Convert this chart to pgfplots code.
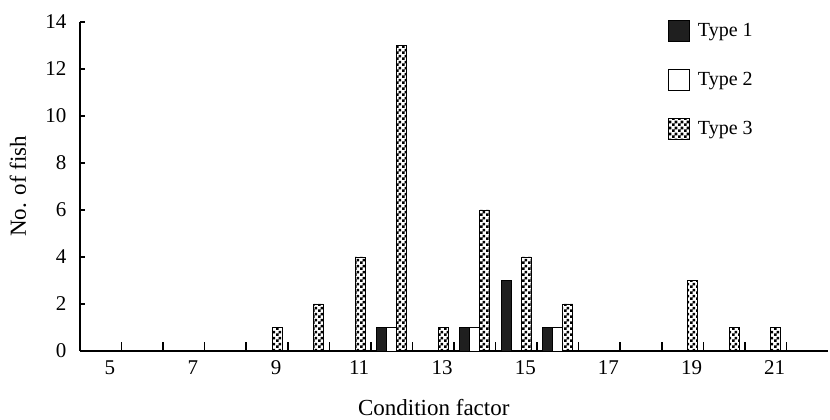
\documentclass[border=0pt]{standalone}
\usepackage{fontspec}
\setmainfont{Liberation Serif}
\usepackage{pgfplots}
\pgfplotsset{compat=1.18}
\usetikzlibrary{patterns}
\pgfdeclarepatternformonly{checkerthree}{\pgfpointorigin}{\pgfqpoint{6pt}{6pt}}{\pgfqpoint{6pt}{6pt}}{%
  \pgfpathrectangle{\pgfpointorigin}{\pgfqpoint{3pt}{3pt}}%
  \pgfpathrectangle{\pgfqpoint{3pt}{3pt}}{\pgfqpoint{3pt}{3pt}}%
  \pgfusepath{fill}}
\colorlet{darkfill}{black!88}
\begin{document}
\begin{tikzpicture}
\useasboundingbox (-80pt,-69pt) rectangle (750pt,351pt);
\begin{axis}[
  at={(0pt,0pt)}, anchor=south west, scale only axis,
  width=748pt, height=329pt,
  xmin=4.5, xmax=22.5, ymin=0, ymax=14,
  axis lines*=left,
  axis line style={line width=1.3pt, -},
  tick align=inside,
  major tick length=5pt,
  minor tick length=9pt,
  every tick/.style={black, line width=1.3pt},
  every minor tick/.style={black, line width=1.5pt},
  xtick={5,7,...,21},
  major x tick style={draw=none},
  minor xtick={5.5,6.5,...,21.5},
  minor x tick style={draw=black, line width=1.5pt},
  ytick={0,2,...,14},
  /pgf/number format/assume math mode=true,
  xticklabel style={font=\fontsize{21}{24}\selectfont, anchor=base, yshift=-24pt, xshift=9pt},
  yticklabel style={font=\fontsize{21}{24}\selectfont, anchor=east, xshift=-10pt},
  xlabel={Condition factor},
  ylabel={No. of fish},
  xlabel style={font=\fontsize{23}{26}\selectfont, inner sep=0pt, at={(axis description cs:0.473,-0.197)}, anchor=base},
  ylabel style={font=\fontsize{23}{26}\selectfont, inner sep=0pt, at={(axis description cs:-0.083,0.5)}, anchor=center},
  legend style={at={(axis description cs:0.786,1.006)}, anchor=north west,
    draw=none, fill=none, inner sep=0pt, row sep=27pt,
    font=\fontsize{20}{24}\selectfont,
    /tikz/every odd column/.append style={column sep=6pt}},
  legend cell align=left,
  clip=false,
]
\addplot[ybar, bar width=10pt, bar shift=-10pt, fill=darkfill, draw=black, line width=0.8pt, forget plot]
  coordinates {(12,1) (14,1) (15,3) (16,1)};
\addplot[ybar, bar width=10pt, bar shift=0pt, fill=white, draw=black, line width=0.8pt, forget plot]
  coordinates {(12,1) (14,1) (16,1)};
\addplot[ybar, bar width=10pt, bar shift=10pt, pattern=checkerthree, pattern color=black, draw=black, line width=0.8pt, forget plot]
  coordinates {(9,1) (10,2) (11,4) (12,13) (13,1) (14,6) (15,4) (16,2) (19,3) (20,1) (21,1)};
\addlegendimage{legend image code/.code={\draw[black, fill=darkfill, line width=0.8pt] (0pt,-10.5pt) rectangle (21pt,10.5pt);}}
\addlegendentry{Type 1}
\addlegendimage{legend image code/.code={\draw[black, fill=white, line width=0.8pt] (0pt,-10.5pt) rectangle (21pt,10.5pt);}}
\addlegendentry{Type 2}
\addlegendimage{legend image code/.code={\draw[black, pattern=checkerthree, pattern color=black, line width=0.8pt] (0pt,-10.5pt) rectangle (21pt,10.5pt);}}
\addlegendentry{Type 3}
\end{axis}
\end{tikzpicture}
\end{document}
